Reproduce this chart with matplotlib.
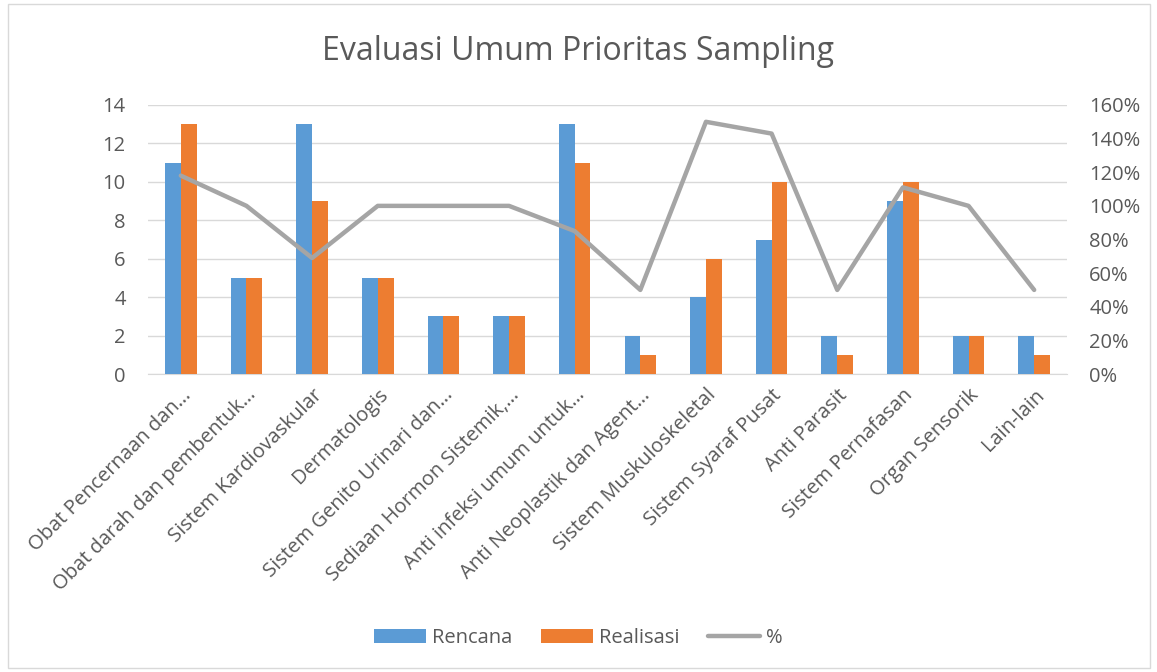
import matplotlib
matplotlib.use("Agg")

import matplotlib.pyplot as plt
import numpy as np
from matplotlib.patches import Rectangle
from matplotlib.ticker import PercentFormatter

kategori = ["Obat Pencernaan dan…", "Obat darah dan pembentuk…", "Sistem Kardiovaskular",
            "Dermatologis", "Sistem Genito Urinari dan…", "Sediaan Hormon Sistemik,…",
            "Anti infeksi umum untuk…", "Anti Neoplastik dan Agent…", "Sistem Muskuloskeletal",
            "Sistem Syaraf Pusat", "Anti Parasit", "Sistem Pernafasan", "Organ Sensorik", "Lain-lain"]
rencana = [11, 5, 13, 5, 3, 3, 13, 2, 4, 7, 2, 9, 2, 2]
realisasi = [13, 5, 9, 5, 3, 3, 11, 1, 6, 10, 1, 10, 2, 1]
persen = [118, 100, 69, 100, 100, 100, 85, 50, 150, 143, 50, 111, 100, 50]

plt.rcParams['font.family'] = ['Open Sans', 'DejaVu Sans']
teks = '#595959'

fig = plt.figure(figsize=(11.57, 6.72), dpi=100)
ax = fig.add_axes([148 / 1157, 1 - 374 / 672, (1067 - 148) / 1157, (374 - 105) / 672])
ax2 = ax.twinx()

x = np.arange(len(kategori))
w = 0.24
ax.bar(x - w / 2, rencana, w, color='#5B9BD5', label='Rencana', zorder=3)
ax.bar(x + w / 2, realisasi, w, color='#ED7D31', label='Realisasi', zorder=3)
ax2.plot(x, persen, color='#A5A5A5', lw=3.2, label='%', solid_capstyle='round')

ax.set_xlim(-0.5, len(kategori) - 0.5)
ax.set_ylim(0, 14)
ax.set_yticks(range(0, 15, 2))
ax2.set_ylim(0, 160)
ax2.set_yticks(range(0, 161, 20))
ax2.yaxis.set_major_formatter(PercentFormatter(decimals=0))
ax.grid(axis='y', color='#D9D9D9', lw=1, zorder=0)

for a in (ax, ax2):
    for s in a.spines.values():
        s.set_visible(False)
    a.tick_params(length=0, colors=teks, labelsize=14.5)
ax.spines['bottom'].set_visible(True)
ax.spines['bottom'].set_color('#D9D9D9')
ax.tick_params(axis='y', pad=16)
ax2.tick_params(axis='y', pad=16)

ax.set_xticks(x)
ax.set_xticklabels(kategori, rotation=45, ha='right', rotation_mode='anchor', fontsize=14.5, color=teks)
ax.tick_params(axis='x', pad=8)

fig.text(0.5, 1 - 52 / 672, 'Evaluasi Umum Prioritas Sampling', ha='center', va='center',
         fontsize=23, color=teks)

h1, l1 = ax.get_legend_handles_labels()
h2, l2 = ax2.get_legend_handles_labels()
fig.legend(h1 + h2, l1 + l2, loc='center', bbox_to_anchor=(0.5, 1 - 638 / 672), ncol=3,
           frameon=False, fontsize=14.5, labelcolor=teks, handlelength=2.6, handleheight=0.7,
           columnspacing=1.4, handletextpad=0.3)

fig.patches.append(Rectangle((8 / 1157, 4 / 672), 1142 / 1157, 664 / 672, transform=fig.transFigure,
                             fill=False, edgecolor='#D9D9D9', lw=1))

fig.savefig('out.png', dpi=100)
